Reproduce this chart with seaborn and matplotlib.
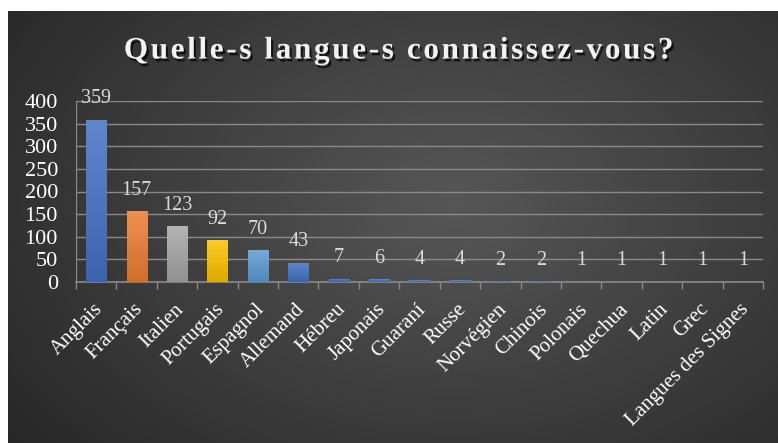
import numpy as np
import pandas as pd
import seaborn as sns
import matplotlib.pyplot as plt
import matplotlib.patheffects as pe
import matplotlib.transforms as mtransforms
from matplotlib.colors import to_rgb

langues = ["Anglais", "Français", "Italien", "Portugais", "Espagnol", "Allemand",
           "Hébreu", "Japonais", "Guaraní", "Russe", "Norvégien", "Chinois",
           "Polonais", "Quechua", "Latin", "Grec", "Langues des Signes"]
nombres = [359, 157, 123, 92, 70, 43, 7, 6, 4, 4, 2, 2, 1, 1, 1, 1, 1]
couleurs = ["#4472C4", "#ED7D31", "#A5A5A5", "#FFC000", "#5B9BD5", "#4472C4"] + ["#4472C4"] * 11

data = pd.DataFrame({"langue": langues, "n": nombres})
n = len(langues)

plt.rcParams['font.family'] = ['Liberation Serif', 'DejaVu Serif']

W, H = 778, 443
fig = plt.figure(figsize=(W / 100, H / 100), dpi=100)
fig.patch.set_facecolor("white")

# fond dégradé radial
bg = fig.add_axes([8 / W, 0, (W - 8) / W, (H - 11) / H])
yy, xx = np.mgrid[0:1:300j, 0:1:500j]
r = np.sqrt(((xx - 0.58) / 0.75) ** 2 + ((yy - 0.55) / 0.9) ** 2)
r = np.clip(r, 0, 1)
v = 0.34 - 0.19 * r
bg.imshow(np.dstack([v, v, v]), aspect="auto", extent=[0, 1, 0, 1], origin="lower")
bg.axis("off")

x0, x1 = 76 / W, 763 / W
ax = fig.add_axes([x0, 1 - 282 / H, x1 - x0, (282 - 101) / H])
ax.patch.set_alpha(0)
sns.barplot(data=data, x="langue", y="n", hue="langue", palette=couleurs,
            legend=False, width=0.5, ax=ax, saturation=1)

# remplissage en dégradé
for p, c in zip(ax.patches, couleurs):
    bx, by = p.get_x(), p.get_y()
    bw, bh = p.get_width(), p.get_height()
    if bh <= 0:
        continue
    rgb = np.array(to_rgb(c))
    t = np.linspace(0, 1, 64)[:, None]
    top = rgb + (1 - rgb) * 0.15
    bot = rgb * 0.88
    grad = bot + (top - bot) * t
    im = ax.imshow(grad[:, None, :], extent=[bx, bx + bw, by, by + bh],
                   aspect="auto", origin="lower", zorder=3)
    im.set_clip_path(p)
    p.set_facecolor("none")
    p.set_edgecolor("none")
ax.set_xlim(-0.5, n - 0.5)
ax.set_ylim(0, 400)

ax.set_yticks(range(0, 401, 50))
ax.yaxis.grid(True, color="#8a8a8a", lw=1)
ax.set_axisbelow(True)
for s in ["top", "right", "left"]:
    ax.spines[s].set_visible(False)
ax.spines["bottom"].set_color("#8a8a8a")
ax.spines["bottom"].set_linewidth(1.2)
ax.tick_params(axis="y", length=0, labelsize=16, colors="white", pad=13)
ax.tick_params(axis="x", length=0, labelsize=15, colors="white", pad=2)

# petites graduations entre catégories
ax.set_xticks(np.arange(-0.5, n, 1), minor=True)
ax.tick_params(axis="x", which="minor", length=5, color="#8a8a8a", width=1)
ax.axvline(-0.5, color="#8a8a8a", lw=1)

ax.set_xticks(range(n))
ax.set_xticklabels(langues, rotation=45, ha="right", rotation_mode="anchor")
decal = mtransforms.ScaledTranslation(-3 / 100, -15 / 100, fig.dpi_scale_trans)
for lbl in ax.get_xticklabels():
    lbl.set_transform(lbl.get_transform() + decal)
ax.set_xlabel("")
ax.set_ylabel("")

for i, val in enumerate(nombres):
    ax.annotate(str(val), (i, val), xytext=(0, 15), textcoords="offset points",
                ha="center", va="center", color="#d9d9d9", fontsize=14.5, zorder=4)

titre = "\u200a".join("Quelle-s langue-s connaissez-vous?")
fig.text(399 / W, 1 - 51 / H, titre, ha="center", va="center", color="#f2f2f2",
         fontsize=22.5, fontweight="bold",
         path_effects=[pe.withSimplePatchShadow(offset=(1.5, -2), shadow_rgbFace="black", alpha=0.7)])

fig.savefig("out.png", dpi=100, facecolor=fig.get_facecolor())
